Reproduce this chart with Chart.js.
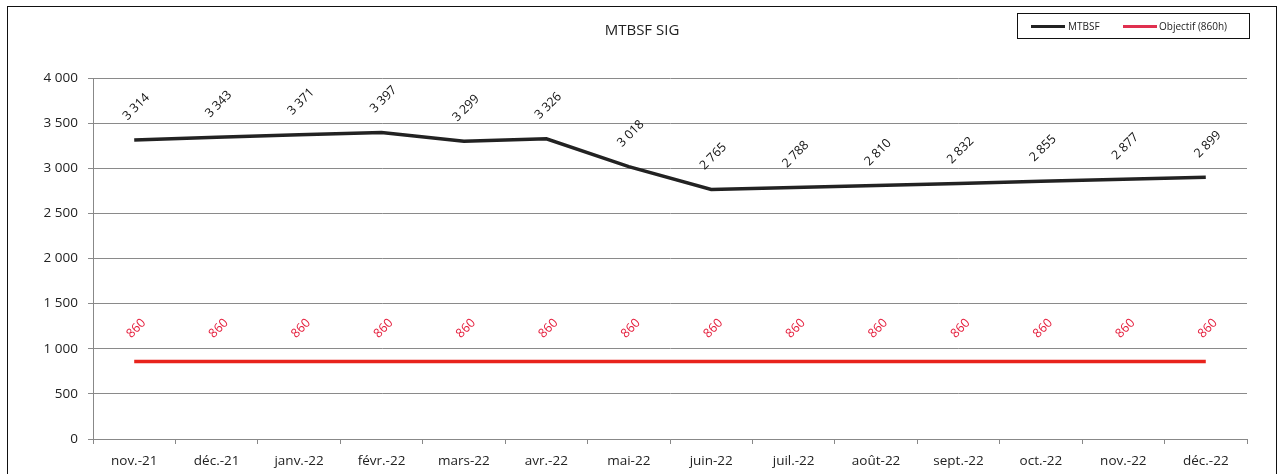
<!DOCTYPE html>
<html>
<head>
    <meta charset="UTF-8">
    <title>MTBSF SIG</title>
    <script src="https://cdn.jsdelivr.net/npm/chart.js@4/dist/chart.umd.min.js"></script>
    <style>
        body { margin: 0; background: #fff; font-family: "Open Sans", sans-serif; }
        .cadre { position: absolute; left: 7px; top: 6px; width: 1270px; height: 480px; border: 1px solid #111; box-sizing: border-box; }
        .legende { position: absolute; left: 1009px; top: 6px; width: 233px; height: 26px; border: 1px solid #111; box-sizing: border-box; font-size: 10px; color: #222; }
        .legende span { position: absolute; top: 5px; }
        .trait { position: absolute; top: 11px; height: 3px; width: 34px; }
    </style>
</head>
<body>

<div class="cadre">
    <canvas id="mtbsf" width="1268" height="478"></canvas>
    <div class="legende">
        <div class="trait" style="left: 13px; background: #222"></div>
        <span style="left: 50px">MTBSF</span>
        <div class="trait" style="left: 105px; background: #e0304f"></div>
        <span style="left: 141px">Objectif (860h)</span>
    </div>
</div>

<script>
    // données
    var mois = ['nov.-21', 'déc.-21', 'janv.-22', 'févr.-22', 'mars-22', 'avr.-22', 'mai-22',
        'juin-22', 'juil.-22', 'août-22', 'sept.-22', 'oct.-22', 'nov.-22', 'déc.-22'];
    var mtbsf = [3314, 3343, 3371, 3397, 3299, 3326, 3018, 2765, 2788, 2810, 2832, 2855, 2877, 2899];
    var objectif = [860, 860, 860, 860, 860, 860, 860, 860, 860, 860, 860, 860, 860, 860];
    var graduations = [0, 500, 1000, 1500, 2000, 2500, 3000, 3500, 4000];

    function milliers(v) {
        return String(v).replace(/\B(?=(\d{3})+(?!\d))/g, ' ');
    }

    // étiquettes de valeurs inclinées à 45°
    var etiquettes = {
        id: 'etiquettes',
        afterDatasetsDraw: function (chart) {
            var ctx = chart.ctx;
            chart.data.datasets.forEach(function (ds, i) {
                chart.getDatasetMeta(i).data.forEach(function (pt, j) {
                    ctx.save();
                    ctx.translate(pt.x + 2, pt.y - 33);
                    ctx.rotate(-Math.PI / 4);
                    ctx.font = '12.5px "Open Sans"';
                    ctx.fillStyle = ds.labelColor;
                    ctx.textAlign = 'center';
                    ctx.textBaseline = 'middle';
                    ctx.fillText(milliers(ds.data[j]), 0, 0);
                    ctx.restore();
                });
            });
        }
    };

    var ctx = document.getElementById('mtbsf').getContext('2d');
    var chart = new Chart(ctx, {
        type: 'line',
        data: {
            labels: mois,
            datasets: [{
                label: 'MTBSF',
                data: mtbsf,
                borderColor: '#222',
                borderWidth: 3.5,
                pointRadius: 0,
                labelColor: '#111'
            }, {
                label: 'Objectif (860h)',
                data: objectif,
                borderColor: '#e8231c',
                borderWidth: 3.5,
                pointRadius: 0,
                labelColor: '#e5213f'
            }]
        },
        options: {
            responsive: false,
            animation: false,
            plugins: {
                legend: { display: false },
                tooltip: { enabled: false },
                title: {
                    display: true,
                    text: 'MTBSF SIG',
                    color: '#222',
                    font: { family: 'Open Sans', size: 15, weight: 'normal' },
                    padding: { top: 15, bottom: 38 }
                }
            },
            scales: {
                x: {
                    offset: true,
                    grid: { offset: true, drawOnChartArea: false, drawTicks: true, tickLength: 5, color: '#888' },
                    border: { color: '#888' },
                    ticks: { color: '#222', font: { family: 'Open Sans', size: 13.5 }, padding: 9, maxRotation: 0 },
                    afterFit: function (s) { s.height = 46; }
                },
                y: {
                    min: 0,
                    max: 4000,
                    afterBuildTicks: function (s) { s.ticks = graduations.map(function (v) { return { value: v }; }); },
                    grid: { color: '#8a8a8a', tickLength: 5 },
                    border: { color: '#888' },
                    ticks: {
                        color: '#222',
                        font: { family: 'Open Sans', size: 13.5 },
                        padding: 10,
                        callback: function (v) { return milliers(v); }
                    },
                    afterFit: function (s) { s.width = 85; }
                },
                // marge de droite (axe vide)
                marge: {
                    position: 'right',
                    min: 0,
                    max: 4000,
                    grid: { display: false },
                    border: { display: false },
                    ticks: { display: false },
                    afterFit: function (s) { s.width = 29; }
                }
            }
        },
        plugins: [etiquettes]
    });
</script>

</body>
</html>
